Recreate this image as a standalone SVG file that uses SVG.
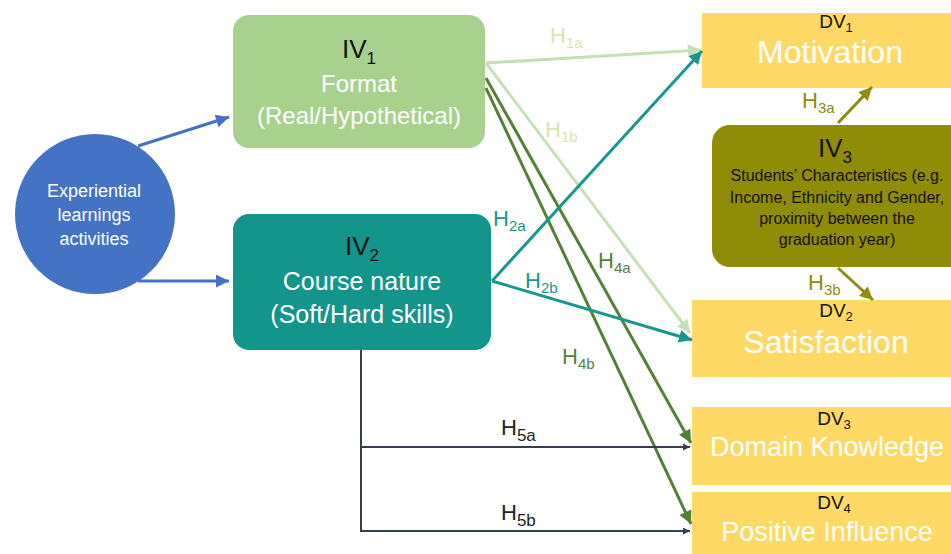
<svg xmlns="http://www.w3.org/2000/svg" width="951" height="554" viewBox="0 0 951 554">
<style>
text{font-family:"Liberation Sans",Arial,sans-serif;text-anchor:middle}
.w{fill:#ffffff}
.k{fill:#111111}
.dv{fill:#ffd966}
.ln{fill:none;stroke-width:3}
.hl{font-size:22px;text-anchor:start}
</style>
<defs>
<marker id="mb" viewBox="0 0 10 10" refX="10" refY="5" markerUnits="userSpaceOnUse" markerWidth="15" markerHeight="13" orient="auto"><path d="M0,0L10,5L0,10z" fill="#4472c4"/></marker>
<marker id="ml" viewBox="0 0 10 10" refX="10" refY="5" markerUnits="userSpaceOnUse" markerWidth="15" markerHeight="13" orient="auto"><path d="M0,0L10,5L0,10z" fill="#c5e0b4"/></marker>
<marker id="mt" viewBox="0 0 10 10" refX="10" refY="5" markerUnits="userSpaceOnUse" markerWidth="15" markerHeight="13" orient="auto"><path d="M0,0L10,5L0,10z" fill="#17978e"/></marker>
<marker id="mg" viewBox="0 0 10 10" refX="10" refY="5" markerUnits="userSpaceOnUse" markerWidth="15" markerHeight="13" orient="auto"><path d="M0,0L10,5L0,10z" fill="#548235"/></marker>
<marker id="mo" viewBox="0 0 10 10" refX="10" refY="5" markerUnits="userSpaceOnUse" markerWidth="15" markerHeight="13" orient="auto"><path d="M0,0L10,5L0,10z" fill="#8f8c08"/></marker>
<marker id="mk" viewBox="0 0 10 10" refX="10" refY="5" markerUnits="userSpaceOnUse" markerWidth="9" markerHeight="7" orient="auto"><path d="M0,0L10,5L0,10z" fill="#333f50"/></marker>
</defs>
<rect width="951" height="554" fill="#ffffff"/>

<g id="experiential">
<circle cx="95" cy="214" r="80" fill="#4472c4"/>
<text class="w" x="94" y="197" font-size="18">Experiential</text>
<text class="w" x="94" y="221" font-size="18">learnings</text>
<text class="w" x="94" y="245" font-size="18">activities</text>
</g>

<g id="iv1">
<rect x="233" y="15" width="252" height="133" rx="16" fill="#a9d18e"/>
<text class="k" x="359" y="58" font-size="26">IV<tspan dy="6" font-size="17">1</tspan></text>
<text class="w" x="359" y="92" font-size="24">Format</text>
<text class="w" x="359" y="124" font-size="24">(Real/Hypothetical)</text>
</g>

<g id="iv2">
<rect x="233" y="214" width="258" height="136" rx="16" fill="#14958b"/>
<text class="k" x="362" y="255" font-size="26">IV<tspan dy="6" font-size="17">2</tspan></text>
<text class="w" x="362" y="290" font-size="25">Course nature</text>
<text class="w" x="362" y="323" font-size="25">(Soft/Hard skills)</text>
</g>

<g id="iv3">
<rect x="712" y="125" width="262" height="142" rx="18" fill="#8f8c08"/>
<text class="k" x="835" y="157" font-size="26">IV<tspan dy="6" font-size="17">3</tspan></text>
<text class="k" x="837" y="181" font-size="16">Students’ Characteristics (e.g.</text>
<text class="k" x="837" y="203" font-size="16">Income, Ethnicity and Gender,</text>
<text class="k" x="837" y="224" font-size="16">proximity between the</text>
<text class="k" x="837" y="245" font-size="16">graduation year)</text>
</g>

<g id="dv1">
<rect class="dv" x="702" y="13" width="260" height="75"/>
<text class="k" x="836" y="28" font-size="19">DV<tspan dy="4" font-size="13">1</tspan></text>
<text class="w" x="830" y="63" font-size="32">Motivation</text>
</g>

<g id="dv2">
<rect class="dv" x="692" y="300" width="270" height="77"/>
<text class="k" x="836" y="317" font-size="19">DV<tspan dy="4" font-size="13">2</tspan></text>
<text class="w" x="826" y="353" font-size="32">Satisfaction</text>
</g>

<g id="dv3">
<rect class="dv" x="692" y="407" width="270" height="78"/>
<text class="k" x="834" y="425" font-size="19">DV<tspan dy="4" font-size="13">3</tspan></text>
<text class="w" x="827" y="456" font-size="27">Domain Knowledge</text>
</g>

<g id="dv4">
<rect class="dv" x="692" y="492" width="270" height="70"/>
<text class="k" x="834" y="509" font-size="19">DV<tspan dy="4" font-size="13">4</tspan></text>
<text class="w" x="827" y="541" font-size="27">Positive Influence</text>
</g>

<g id="connectors">
<line class="ln" x1="138" y1="146" x2="229" y2="117" stroke="#4472c4" marker-end="url(#mb)"/>
<line class="ln" x1="138" y1="281" x2="229" y2="281" stroke="#4472c4" marker-end="url(#mb)"/>
<line class="ln" x1="486" y1="63" x2="701" y2="50" stroke="#c5e0b4" marker-end="url(#ml)"/>
<line class="ln" x1="486" y1="63" x2="690" y2="333" stroke="#c5e0b4" marker-end="url(#ml)"/>
<line class="ln" x1="486" y1="78" x2="691" y2="443" stroke="#548235" marker-end="url(#mg)"/>
<line class="ln" x1="486" y1="88" x2="691" y2="524" stroke="#548235" marker-end="url(#mg)"/>
<line class="ln" x1="492" y1="281" x2="702" y2="51" stroke="#17978e" marker-end="url(#mt)"/>
<line class="ln" x1="492" y1="281" x2="692" y2="340" stroke="#17978e" marker-end="url(#mt)"/>
<line class="ln" x1="838" y1="123" x2="872" y2="87" stroke="#8f8c08" marker-end="url(#mo)"/>
<line class="ln" x1="838" y1="268" x2="873" y2="300" stroke="#8f8c08" marker-end="url(#mo)"/>
<path d="M361,350V531H690" fill="none" stroke="#333f50" stroke-width="2" marker-end="url(#mk)"/>
<line x1="361" y1="447" x2="690" y2="447" stroke="#333f50" stroke-width="2" marker-end="url(#mk)"/>
</g>

<g id="labels">
<text class="hl" x="550" y="43" fill="#d6e6aa">H<tspan dy="5" font-size="15">1a</tspan></text>
<text class="hl" x="545" y="137" fill="#d6e6aa">H<tspan dy="5" font-size="15">1b</tspan></text>
<text class="hl" x="493" y="226" fill="#17978e">H<tspan dy="5" font-size="15">2a</tspan></text>
<text class="hl" x="525" y="288" fill="#17978e">H<tspan dy="5" font-size="15">2b</tspan></text>
<text class="hl" x="598" y="268" fill="#548235">H<tspan dy="5" font-size="15">4a</tspan></text>
<text class="hl" x="562" y="364" fill="#548235">H<tspan dy="5" font-size="15">4b</tspan></text>
<text class="hl" x="802" y="108" fill="#8f8c08">H<tspan dy="5" font-size="15">3a</tspan></text>
<text class="hl" x="808" y="290" fill="#8f8c08">H<tspan dy="5" font-size="15">3b</tspan></text>
<text class="hl" x="501" y="435" font-size="25" fill="#222222">H<tspan dy="6" font-size="17">5a</tspan></text>
<text class="hl" x="501" y="520" font-size="25" fill="#222222">H<tspan dy="6" font-size="17">5b</tspan></text>
</g>
</svg>
